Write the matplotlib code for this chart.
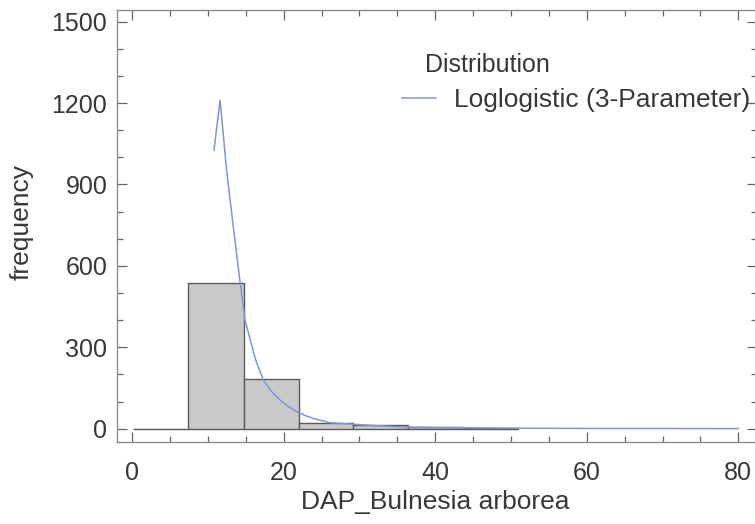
import matplotlib

matplotlib.use("Agg")
import matplotlib.pyplot as plt
from matplotlib.ticker import MultipleLocator

# histogram of DAP (bin edges and counts)
BIN_EDGES = [0.1, 7.4, 14.7, 22.0, 29.2, 36.4, 43.7, 50.9]
COUNTS = [0, 536, 183, 22, 12, 8, 4]

# fitted loglogistic (3-parameter) curve
CURVE_X = [10.8, 11.6, 12.5, 13.4, 14.2, 14.9, 15.6, 16.3, 17.3, 18.3, 19.5,
           20.6, 21.7, 22.8, 23.9, 26.1, 30.5, 35.0, 40.0, 50.0, 60.0, 70.0, 80.0]
CURVE_Y = [1027, 1211, 942, 732, 548, 400, 326, 253, 180, 140, 106,
           82, 63, 49, 38, 22, 14, 7, 4, 2, 1, 0.7, 0.5]

X_TICKS = [0, 20, 40, 60, 80]
Y_TICKS = [0, 300, 600, 900, 1200, 1500]

BAR_FACE = "#c9c9c9"
BAR_EDGE = "#5a5a5a"
CURVE_COLOR = "#8294d8"
FRAME = "#8c8c8c"
TEXT = "#383838"


def main() -> None:
    plt.rcParams.update({"font.family": "Liberation Sans"})

    fig = plt.figure(figsize=(7.55, 5.24), dpi=100)
    ax = fig.add_axes([0.155, 0.157, 0.848, 0.824])

    lefts = BIN_EDGES[:-1]
    widths = [b - a for a, b in zip(BIN_EDGES[:-1], BIN_EDGES[1:])]
    ax.bar(lefts, COUNTS, width=widths, align="edge", color=BAR_FACE,
           edgecolor=BAR_EDGE, linewidth=1.0, zorder=2)

    line, = ax.plot(CURVE_X, CURVE_Y, color=CURVE_COLOR, linewidth=1.1,
                    zorder=3, label="Loglogistic (3-Parameter)")

    ax.set_xlim(-2.0, 82.5)
    ax.set_ylim(-48, 1543)
    ax.set_xticks(X_TICKS)
    ax.set_yticks(Y_TICKS)
    ax.xaxis.set_minor_locator(MultipleLocator(5))
    ax.yaxis.set_minor_locator(MultipleLocator(100))

    for spine in ax.spines.values():
        spine.set_color(FRAME)
        spine.set_linewidth(1.0)
    ax.tick_params(which="both", direction="in", top=True, right=True,
                   color="#666666", width=0.9)
    ax.tick_params(which="major", length=7)
    ax.tick_params(which="minor", length=4)
    ax.tick_params(axis="x", which="major", labelsize=18, labelcolor=TEXT, pad=14)
    ax.tick_params(axis="y", which="major", labelsize=18, labelcolor=TEXT, pad=7)

    ax.set_xlabel("DAP_Bulnesia arborea", fontsize=19, color=TEXT)
    ax.xaxis.set_label_coords(0.497, -0.112)
    ax.set_ylabel("frequency", fontsize=19, color=TEXT)
    ax.yaxis.set_label_coords(-0.13, 0.509)

    fig.text(0.563, 0.863, "Distribution", fontsize=18, color=TEXT,
             ha="left", va="baseline")
    fig.legend(handles=[line], loc="center left", bbox_to_anchor=(0.532, 0.809),
               frameon=False, fontsize=19, handlelength=1.3, handletextpad=0.7,
               borderpad=0, borderaxespad=0, labelcolor=TEXT)

    fig.savefig("out.png", dpi=100)
    plt.close(fig)


if __name__ == "__main__":
    main()
